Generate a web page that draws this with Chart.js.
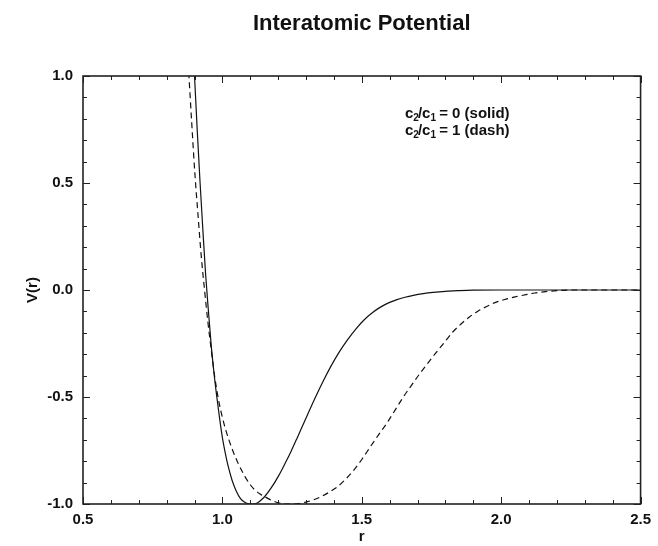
<!DOCTYPE html>
<html>
<head>
<meta charset="utf-8">
<title>Interatomic Potential</title>
<script src="https://cdn.jsdelivr.net/npm/chart.js@4.4.1/dist/chart.umd.min.js"></script>
<style>
  html, body { margin: 0; padding: 0; background: #fff; }
  canvas { display: block; }
</style>
</head>
<body>
<canvas id="chart" width="658" height="546"></canvas>
<script>
// values
const rSolid = [0.890, 0.900, 0.910, 0.920, 0.930, 0.940, 0.950, 0.960, 0.970, 0.980,
  0.990, 1.000, 1.010, 1.020, 1.035, 1.050, 1.065, 1.080, 1.095, 1.110,
  1.125, 1.140, 1.152, 1.175, 1.200, 1.225, 1.247, 1.271, 1.295, 1.330,
  1.360, 1.389, 1.420, 1.448, 1.480, 1.508, 1.540, 1.567, 1.600, 1.626,
  1.655, 1.685, 1.720, 1.756, 1.800, 1.850, 1.900, 2.000, 2.500];
const vSolid = [1.30, 1.00, 0.74, 0.50, 0.28, 0.07, -0.10, -0.26, -0.39, -0.50,
  -0.60, -0.69, -0.76, -0.82, -0.89, -0.94, -0.975, -0.992, -0.999, -1.0,
  -0.995, -0.98, -0.965, -0.925, -0.872, -0.81, -0.752, -0.683, -0.613, -0.512,
  -0.430, -0.357, -0.288, -0.234, -0.180, -0.140, -0.104, -0.080, -0.058, -0.045,
  -0.034, -0.025, -0.017, -0.011, -0.006, -0.003, -0.001, 0, 0];

const rDash = [0.868, 0.880, 0.890, 0.901, 0.912, 0.924, 0.936, 0.948, 0.960, 0.973,
  0.985, 0.998, 1.010, 1.022, 1.037, 1.052, 1.067, 1.081, 1.100, 1.117,
  1.135, 1.152, 1.175, 1.200, 1.235, 1.270, 1.306, 1.330, 1.354, 1.383,
  1.413, 1.442, 1.472, 1.500, 1.531, 1.560, 1.591, 1.620, 1.650, 1.680,
  1.709, 1.735, 1.762, 1.790, 1.827, 1.855, 1.887, 1.915, 1.946, 1.980,
  2.017, 2.050, 2.088, 2.120, 2.159, 2.200, 2.250, 2.500];
const vDash = [1.25, 1.00, 0.78, 0.55, 0.36, 0.16, 0.00, -0.15, -0.28, -0.41,
  -0.505, -0.585, -0.645, -0.695, -0.75, -0.797, -0.838, -0.872, -0.91, -0.935,
  -0.953, -0.966, -0.982, -0.994, -1.0, -0.998, -0.989, -0.979, -0.966, -0.945,
  -0.919, -0.884, -0.841, -0.792, -0.732, -0.677, -0.620, -0.560, -0.498, -0.442,
  -0.389, -0.345, -0.300, -0.255, -0.195, -0.160, -0.125, -0.100, -0.078, -0.058,
  -0.043, -0.032, -0.022, -0.014, -0.008, -0.003, 0, 0];

const xTicks = [0.5, 1.0, 1.5, 2.0, 2.5];
const yTicks = [-1.0, -0.5, 0.0, 0.5, 1.0];
const legendLines = [['c', '2', '/c', '1', ' = 0 (solid)'], ['c', '2', '/c', '1', ' = 1 (dash)']];

const FONT = '"Liberation Sans", Arial, Helvetica, sans-serif';
const INK = '#111';

const toPoints = (xs, ys) => xs.map((x, i) => ({ x: x, y: ys[i] }));

// frame + inward ticks on all four sides (every 0.1, longer at the labelled values)
const frameTicks = {
  id: 'frameTicks',
  afterDatasetsDraw(chart) {
    const { ctx, chartArea: a, scales: { x, y } } = chart;
    ctx.save();
    ctx.strokeStyle = '#222';
    ctx.lineWidth = 1;
    ctx.beginPath();
    for (let i = 5; i <= 25; i++) {
      const px = Math.round(x.getPixelForValue(i / 10)) + 0.5;
      const len = i % 5 === 0 ? 7 : 4;
      ctx.moveTo(px, a.bottom); ctx.lineTo(px, a.bottom - len);
      ctx.moveTo(px, a.top); ctx.lineTo(px, a.top + len);
    }
    for (let i = -10; i <= 10; i++) {
      const py = Math.round(y.getPixelForValue(i / 10)) + 0.5;
      const len = i % 5 === 0 ? 7 : 4;
      ctx.moveTo(a.left, py); ctx.lineTo(a.left + len, py);
      ctx.moveTo(a.right, py); ctx.lineTo(a.right - len, py);
    }
    ctx.stroke();
    ctx.lineWidth = 1.6;
    ctx.strokeRect(a.left, a.top, a.right - a.left, a.bottom - a.top);
    ctx.restore();
  }
};

// the c2/c1 note in the upper right, with subscripts
const note = {
  id: 'note',
  afterDraw(chart) {
    const { ctx } = chart;
    ctx.save();
    ctx.fillStyle = INK;
    ctx.textBaseline = 'alphabetic';
    legendLines.forEach((parts, row) => {
      let cx = 405;
      const base = 118 + row * 17;
      parts.forEach((t, k) => {
        const sub = k === 1 || k === 3;
        ctx.font = 'bold ' + (sub ? '10px ' : '15px ') + FONT;
        ctx.fillText(t, cx, base + (sub ? 3 : 0));
        cx += ctx.measureText(t).width - (sub ? 1 : 0);
      });
    });
    ctx.restore();
  }
};

new Chart(document.getElementById('chart'), {
  type: 'line',
  data: {
    datasets: [
      {
        label: 'c2/c1 = 0 (solid)',
        data: toPoints(rSolid, vSolid),
        borderColor: INK,
        borderWidth: 1.2,
        pointRadius: 0,
        cubicInterpolationMode: 'monotone'
      },
      {
        label: 'c2/c1 = 1 (dash)',
        data: toPoints(rDash, vDash),
        borderColor: INK,
        borderWidth: 1.2,
        borderDash: [6, 4],
        pointRadius: 0,
        cubicInterpolationMode: 'monotone'
      }
    ]
  },
  options: {
    responsive: false,
    animation: false,
    devicePixelRatio: 1,
    layout: { padding: { left: 0, right: 12, top: 0, bottom: 0 } },
    plugins: {
      legend: { display: false },
      tooltip: { enabled: false },
      title: {
        display: true,
        fullSize: false,
        text: 'Interatomic Potential',
        color: INK,
        font: { family: FONT, size: 22, weight: 'bold' },
        padding: { top: 11, bottom: 38.6 }
      }
    },
    scales: {
      x: {
        type: 'linear',
        min: 0.5,
        max: 2.5,
        afterBuildTicks: s => { s.ticks = xTicks.map(v => ({ value: v })); },
        afterFit: s => { s.height = 42; },
        ticks: { callback: v => v.toFixed(1), color: INK, padding: 7, font: { family: FONT, size: 15, weight: 'bold' } },
        grid: { display: false, drawTicks: false },
        border: { display: false },
        title: { display: true, text: 'r', color: INK, padding: 0, font: { family: FONT, size: 15, weight: 'bold' } }
      },
      y: {
        min: -1,
        max: 1,
        afterBuildTicks: s => { s.ticks = yTicks.map(v => ({ value: v })); },
        afterFit: s => { s.width = 83; },
        ticks: { callback: v => v.toFixed(1), color: INK, padding: 10, font: { family: FONT, size: 15, weight: 'bold' } },
        grid: { display: false, drawTicks: false },
        border: { display: false },
        title: { display: true, text: 'V(r)', color: INK, padding: { top: 24, bottom: 0 }, font: { family: FONT, size: 15, weight: 'bold' } }
      }
    }
  },
  plugins: [frameTicks, note]
});
</script>
</body>
</html>
